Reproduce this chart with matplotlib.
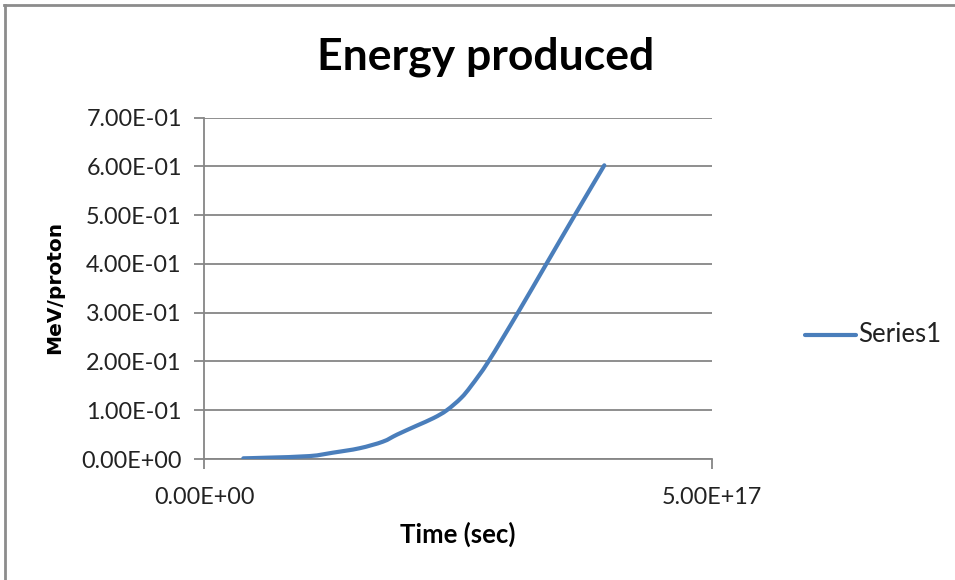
import matplotlib
matplotlib.use("Agg")
import matplotlib.pyplot as plt
from matplotlib.ticker import FuncFormatter, FixedLocator
from matplotlib.lines import Line2D
from matplotlib.path import Path
from matplotlib.patches import PathPatch

# Cumulative energy released per proton over time
time_sec = [3.87e16, 6.2e16, 1.04e17, 1.27e17, 1.53e17, 1.76e17, 1.90e17, 2.09e17,
            2.26e17, 2.39e17, 2.53e17, 2.63e17, 2.80e17, 3.09e17, 3.37e17, 3.65e17, 3.94e17]
mev_per_proton = [0.0014, 0.0027, 0.006, 0.013, 0.022, 0.0355, 0.05, 0.068,
                  0.084, 0.10, 0.125, 0.15, 0.20, 0.30, 0.40, 0.50, 0.602]
series_name = "Series1"
y_ticks = [0.0, 0.1, 0.2, 0.3, 0.4, 0.5, 0.6, 0.7]
x_ticks = [0.0, 5e17]

W, H = 955, 580
fig = plt.figure(figsize=(W / 100, H / 100), dpi=100)
fig.patch.set_facecolor("white")

ax = fig.add_axes([204 / W, 1 - 459 / H, (712 - 204) / W, (459 - 117.5) / H])

line_color = "#4a7ebb"
grid_color = "#868686"
ax.set_xlim(0, 5e17)
ax.set_ylim(0, 0.7)


def smooth_path(xs, ys, tension=1 / 6):
    """Cubic Bezier path through the points (Catmull-Rom style smoothing)."""
    n = len(xs)
    verts = [(xs[0], ys[0])]
    codes = [Path.MOVETO]
    for i in range(n - 1):
        x0, y0 = xs[max(i - 1, 0)], ys[max(i - 1, 0)]
        x1, y1 = xs[i], ys[i]
        x2, y2 = xs[i + 1], ys[i + 1]
        x3, y3 = xs[min(i + 2, n - 1)], ys[min(i + 2, n - 1)]
        c1 = (x1 + (x2 - x0) * tension, y1 + (y2 - y0) * tension)
        c2 = (x2 - (x3 - x1) * tension, y2 - (y3 - y1) * tension)
        verts += [c1, c2, (x2, y2)]
        codes += [Path.CURVE4] * 3
    return Path(verts, codes)


curve = PathPatch(smooth_path(time_sec, mev_per_proton), facecolor="none",
                  edgecolor=line_color, lw=3.0, capstyle="round", joinstyle="round",
                  transform=ax.transData, zorder=3)
ax.add_patch(curve)


def sci(v, pos=None):
    return f"{v:.2E}"


ax.xaxis.set_major_locator(FixedLocator(x_ticks))
ax.yaxis.set_major_locator(FixedLocator(y_ticks))
ax.xaxis.set_major_formatter(FuncFormatter(sci))
ax.yaxis.set_major_formatter(FuncFormatter(sci))

for lab in ax.get_xticklabels() + ax.get_yticklabels():
    lab.set_fontfamily("Lato")
    lab.set_fontsize(16.8)
    lab.set_color("#222222")

ax.grid(axis="y", color=grid_color, lw=1.3)
ax.set_axisbelow(True)
for side in ["top", "right"]:
    ax.spines[side].set_visible(False)
for side in ["left", "bottom"]:
    ax.spines[side].set_color(grid_color)
    ax.spines[side].set_linewidth(1.3)
ax.tick_params(axis="y", direction="out", length=7, width=1.3, color=grid_color, pad=9)
ax.tick_params(axis="x", direction="out", length=7, width=1.3, color=grid_color, pad=13)

fig.text(486 / W, 1 - 57 / H, "Energy produced", family="Lato", weight="bold",
         size=32, ha="center", va="center", color="black")
fig.text(458 / W, 1 - 534 / H, "Time (sec)", family="Lato", weight="bold",
         size=18.5, ha="center", va="center", color="black")
fig.text(55 / W, 1 - 287 / H, "MeV/proton", family="DejaVu Sans", weight="bold",
         size=14.5, ha="center", va="center", rotation=90, color="black")

# Legend entry at right
fig.add_artist(Line2D([805 / W, 856 / W], [1 - 335 / H, 1 - 335 / H], color=line_color,
                      lw=3.0, solid_capstyle="round"))
fig.text(858 / W, 1 - 335 / H, series_name, family="Lato", size=18.5, ha="left",
         va="center", color="#222222")

# Chart area frame (top and left edges)
fig.add_artist(Line2D([4 / W, 1.0], [1 - 5 / H, 1 - 5 / H], color="#8c8c8c", lw=2.0))
fig.add_artist(Line2D([5 / W, 5 / W], [0, 1 - 5 / H], color="#8c8c8c", lw=2.0))

fig.savefig("out.png", dpi=100, facecolor="white")
